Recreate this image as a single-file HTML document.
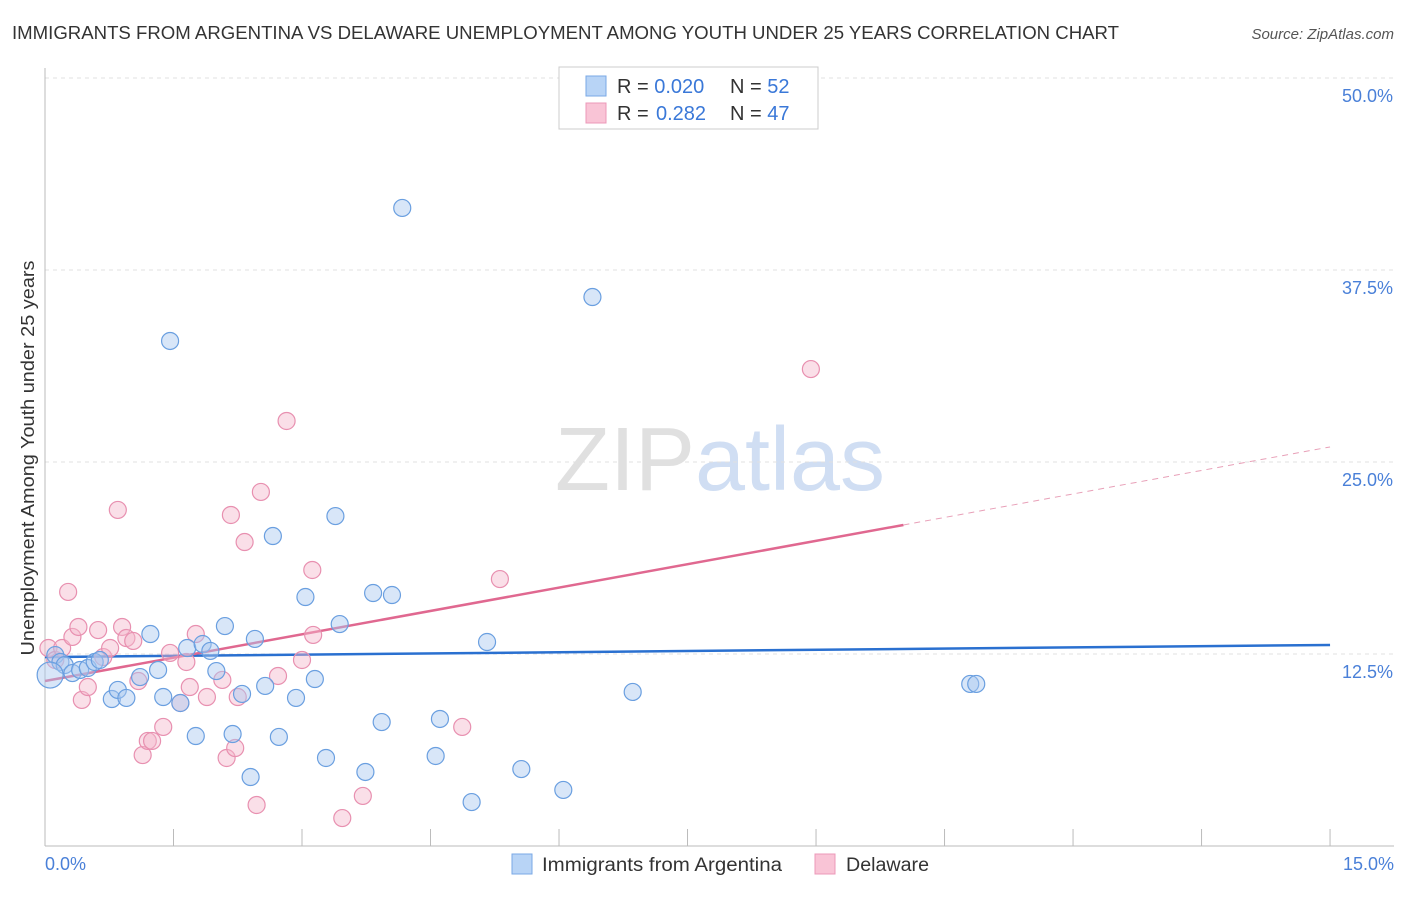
<!DOCTYPE html>
<html><head><meta charset="utf-8"><style>
body{margin:0;background:#fff;font-family:"Liberation Sans",sans-serif;}
svg text{font-family:"Liberation Sans",sans-serif;}
</style></head><body>
<svg id="chart" width="1406" height="892" xmlns="http://www.w3.org/2000/svg">
<text x="12" y="39" font-size="18" fill="#333" textLength="1107" lengthAdjust="spacingAndGlyphs">IMMIGRANTS FROM ARGENTINA VS DELAWARE UNEMPLOYMENT AMONG YOUTH UNDER 25 YEARS CORRELATION CHART</text>
<text x="1394" y="39" font-size="15" fill="#555" text-anchor="end" font-style="italic">Source: ZipAtlas.com</text>
<text x="555" y="490" font-size="90" fill="#e0e0e0" font-family="Liberation Serif" textLength="330" lengthAdjust="spacingAndGlyphs">ZIP<tspan fill="#d0def3" font-family="Liberation Sans">atlas</tspan></text>
<g id="grid"></g>
<g id="axes"></g>
<g id="lines"></g>
<g id="points"></g>
<text transform="translate(34,458) rotate(-90)" font-size="18" fill="#333" text-anchor="middle" textLength="395" lengthAdjust="spacingAndGlyphs">Unemployment Among Youth under 25 years</text>
<text x="45" y="870" font-size="18" fill="#4a80d8">0.0%</text>
<text x="1394" y="870" font-size="18" fill="#4a80d8" text-anchor="end">15.0%</text>
<g>
<rect x="559" y="67" width="259" height="62" fill="#fff" stroke="#ccc"/>
<rect x="586" y="76" width="20" height="20" fill="#b8d4f6" stroke="#7aa8e6"/>
<rect x="586" y="103" width="20" height="20" fill="#f9c4d6" stroke="#ec98b8"/>
<text x="617" y="93" font-size="20" fill="#333">R = <tspan fill="#3a78d8">0.020</tspan></text>
<text x="730" y="93" font-size="20" fill="#333">N = <tspan fill="#3a78d8">52</tspan></text>
<text x="617" y="120" font-size="20" fill="#333">R = </text>
<text x="656" y="120" font-size="20" fill="#3a78d8">0.282</text>
<text x="730" y="120" font-size="20" fill="#333">N = <tspan fill="#3a78d8">47</tspan></text>
</g>
<g>
<rect x="512" y="854" width="20" height="20" fill="#b8d4f6" stroke="#7aa8e6"/>
<text x="542" y="871" font-size="19" fill="#333" textLength="240" lengthAdjust="spacingAndGlyphs">Immigrants from Argentina</text>
<rect x="815" y="854" width="20" height="20" fill="#f9c4d6" stroke="#ec98b8"/>
<text x="846" y="871" font-size="19" fill="#333" textLength="83" lengthAdjust="spacingAndGlyphs">Delaware</text>
</g>
</svg>
<script>
const blueX=[0.12,0.18,0.23,0.32,0.41,0.50,0.58,0.64,0.78,0.85,0.95,1.11,1.23,1.32,1.38,1.46,1.58,1.66,1.76,1.84,1.93,2.00,2.10,2.19,2.30,2.40,2.45,2.57,2.66,2.73,2.93,3.04,3.15,3.28,3.39,3.44,3.74,3.83,3.93,4.05,4.17,4.56,4.61,4.98,5.16,5.56,6.05,6.39,6.86,10.80,10.87,0.06];
const blueY=[12.43,11.98,11.78,11.26,11.46,11.59,11.98,12.11,9.57,10.16,9.64,11.00,13.80,11.46,9.70,32.88,9.31,12.89,7.16,13.15,12.70,11.39,14.32,7.29,9.90,4.49,13.48,10.42,20.18,7.10,9.64,16.21,10.87,5.73,21.48,14.45,4.82,16.47,8.07,16.34,41.54,5.86,8.27,2.86,13.28,5.01,3.65,35.74,10.03,10.55,10.55,11.13];
const pinkX=[0.04,0.12,0.20,0.27,0.32,0.39,0.43,0.50,0.62,0.68,0.76,0.85,0.90,0.95,1.03,1.09,1.14,1.20,1.25,1.38,1.46,1.58,1.65,1.69,1.76,1.89,2.07,2.12,2.17,2.22,2.25,2.33,2.47,2.52,2.72,2.82,3.00,3.12,3.13,3.47,3.71,4.87,5.31,8.94];
const pinkY=[12.89,12.11,12.89,16.54,13.61,14.26,9.51,10.35,14.06,12.30,12.89,21.88,14.26,13.54,13.35,10.74,5.92,6.84,6.84,7.75,12.57,9.31,11.98,10.35,13.80,9.70,10.81,5.73,21.55,6.38,9.70,19.79,2.67,23.05,11.07,27.67,12.11,17.97,13.74,1.82,3.26,7.75,17.38,31.05];
const yTicks=[12.5,25,37.5,50];
const xTicks=[0,1.5,3,4.5,6,7.5,9,10.5,12,13.5,15];
const blueLine=[[0,12.30],[15,13.09]];
const pinkLine=[[0,10.74],[10.02,20.90]];
const pinkDash=[[10.02,20.90],[15,25.98]];
const NS="http://www.w3.org/2000/svg";
const sx=v=>45+v*85.67, sy=v=>846-v*15.36;
function mk(tag,attrs,parent){const e=document.createElementNS(NS,tag);for(const k in attrs)e.setAttribute(k,attrs[k]);document.getElementById(parent).appendChild(e);return e;}
yTicks.forEach(t=>{
 const l=mk('line',{x1:45,x2:1394,y1:sy(t),y2:sy(t),stroke:'#e0e0e0','stroke-dasharray':'4,4'},'grid');
 
 
 const tx=mk('text',{x:1393,y:sy(t)+24,'font-size':18,fill:'#4a80d8','text-anchor':'end'},'grid');
 tx.textContent=t.toFixed(1)+'%';
 
 
});
const ax=mk('line',{x1:45,x2:45,y1:68,y2:846,stroke:'#bbb'},'axes');


const bx=mk('line',{x1:45,x2:1394,y1:846,y2:846,stroke:'#bbb'},'axes');


xTicks.forEach(t=>{
 const l=mk('line',{x1:sx(t),x2:sx(t),y1:829,y2:846,stroke:'#bbb'},'axes');
 
 
});
function line(pts,color,dash,name){
 const l=mk('line',{x1:sx(pts[0][0]),y1:sy(pts[0][1]),x2:sx(pts[1][0]),y2:sy(pts[1][1]),stroke:color,'stroke-width':dash?1:2.5},'lines');
 if(dash)l.setAttribute('stroke-dasharray','6,5');
 
 
}
function pts(xs,ys,fill,stroke,name){
 xs.forEach((x,i)=>{
  const c=mk('circle',{cx:sx(x),cy:sy(ys[i]),r:(name==='argentina-point'&&i===xs.length-1)?13:8.5,fill:fill,'fill-opacity':0.45,stroke:stroke,'stroke-width':1.2},'points');
  
  
 });
}
pts(pinkX,pinkY,'#f5b8cc','#e890b0','delaware-point');
pts(blueX,blueY,'#a8c8f0','#6a9fe0','argentina-point');
line(blueLine,'#2a70d0',false,'argentina-trend-line');
line(pinkLine,'#e06890',false,'delaware-trend-line');
line(pinkDash,'#e8a0b8',true,'delaware-trend-extension');
</script>
</body></html>
